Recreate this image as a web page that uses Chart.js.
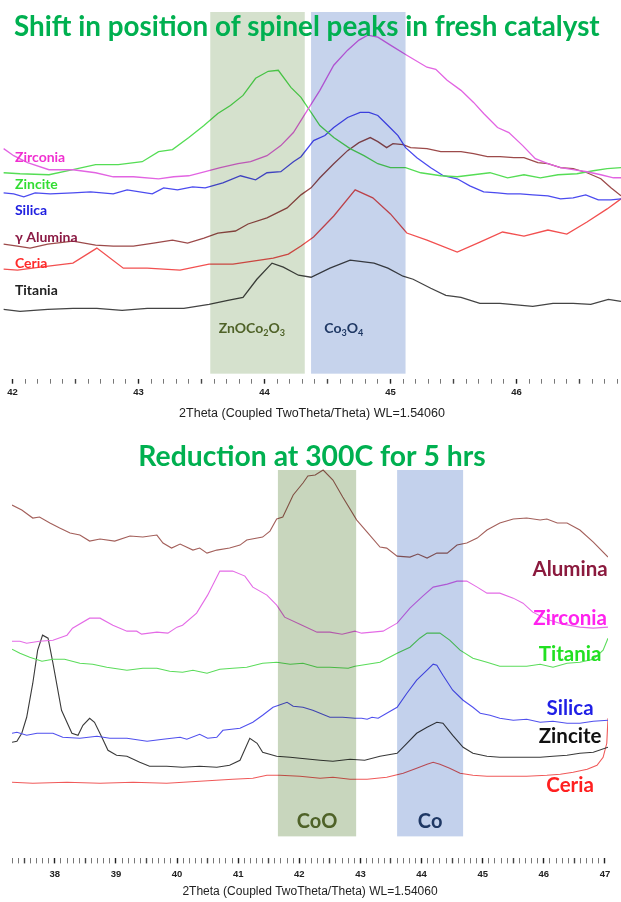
<!DOCTYPE html>
<html>
<head>
<meta charset="utf-8">
<script src="https://cdn.jsdelivr.net/npm/chart.js@4.4.0/dist/chart.umd.min.js"></script>
<style>
  html, body { margin: 0; padding: 0; background: #fff; }
  #wrap { position: relative; width: 621px; height: 902px; }
  canvas { position: absolute; left: 0; }
  #fresh { top: 0; }
  #reduced { top: 430px; }
</style>
</head>
<body>
<div id="wrap">
  <canvas id="fresh" width="621" height="430"></canvas>
  <canvas id="reduced" width="621" height="472"></canvas>
</div>
<script>
// ---- fresh catalyst (2theta in degrees, counts in arbitrary units) ----
const freshZirconiaTheta = [41.93,42.01,42.12,42.29,42.48,42.66,42.80,42.96,43.16,43.28,43.40,43.53,43.65,43.79,43.89,44.02,44.13,44.23,44.34,44.44,44.55,44.66,44.75,44.82,44.90,45.00,45.13,45.29,45.36,45.45,45.56,45.66,45.74,45.85,45.94,46.05,46.15,46.25,46.35,46.45,46.56,46.67,46.77,46.83];
const freshZirconiaCounts = [225,218,211,204,204,201,197,197,195,197,198,202,206,210,212,218,228,241,263,283,308,323,333,338,336,328,318,306,304,293,283,271,260,246,241,228,215,210,206,204,202,199,196,196];

const freshZinciteTheta = [41.93,42.06,42.29,42.48,42.66,42.84,43.03,43.16,43.27,43.40,43.52,43.63,43.73,43.83,43.93,44.03,44.11,44.21,44.29,44.37,44.44,44.55,44.68,44.79,44.90,45.00,45.12,45.24,45.40,45.53,45.66,45.79,45.93,46.06,46.19,46.33,46.48,46.61,46.72,46.83];
const freshZinciteCounts = [201,200,199,204,209,209,212,222,224,236,248,260,268,278,295,302,303,286,276,261,248,236,225,218,210,206,206,201,198,197,199,201,196,199,196,199,200,203,205,206];

const freshSilicaTheta = [41.93,42.01,42.09,42.18,42.30,42.48,42.62,42.80,42.91,43.11,43.20,43.31,43.43,43.53,43.67,43.81,43.93,44.02,44.13,44.23,44.29,44.39,44.48,44.55,44.66,44.76,44.83,44.90,44.98,45.06,45.12,45.21,45.32,45.42,45.53,45.63,45.74,45.85,45.93,46.03,46.13,46.25,46.35,46.45,46.55,46.65,46.75,46.83];
const freshSilicaCounts = [181,180,177,181,180,181,182,180,184,180,186,184,187,186,191,198,194,201,202,212,217,233,238,246,256,261,261,258,248,238,226,216,206,198,195,188,182,181,180,180,179,178,175,176,179,174,174,175];

const freshAluminaTheta = [41.93,42.04,42.14,42.28,42.48,42.66,42.80,42.96,43.12,43.27,43.39,43.52,43.63,43.77,43.87,44.02,44.18,44.29,44.37,44.44,44.55,44.66,44.75,44.84,44.90,44.97,45.02,45.10,45.16,45.29,45.40,45.56,45.66,45.77,45.87,45.98,46.06,46.17,46.25,46.35,46.45,46.56,46.67,46.75,46.83];
const freshAluminaCounts = [130,128,126,130,133,129,128,128,131,134,131,136,141,143,150,156,166,179,186,196,210,223,231,236,232,226,230,229,226,225,222,222,220,217,217,216,216,211,210,206,205,201,195,186,178];

const freshCeriaTheta = [41.93,42.04,42.22,42.48,42.67,42.88,43.07,43.33,43.56,43.75,43.91,44.07,44.19,44.29,44.39,44.55,44.72,44.86,45.00,45.13,45.29,45.53,45.71,45.89,46.06,46.25,46.40,46.56,46.72,46.83];
const freshCeriaCounts = [105,104,107,111,126,106,106,104,110,110,113,116,120,128,137,158,184,176,160,141,134,122,132,142,138,144,140,152,165,175];

const freshTitaniaTheta = [41.93,42.06,42.28,42.48,42.67,42.87,43.07,43.36,43.56,43.71,43.83,43.94,44.06,44.15,44.27,44.37,44.52,44.68,44.87,44.98,45.10,45.18,45.32,45.44,45.56,45.71,45.87,46.13,46.29,46.45,46.59,46.73,46.83];
const freshTitaniaCounts = [65,63,65,66,66,64,66,66,70,74,77,95,111,107,99,97,106,114,111,106,98,95,86,79,77,71,71,68,71,71,70,75,73];

const freshNames = ['Zirconia', 'Zincite', 'Silica', 'γ Alumina', 'Ceria', 'Titania'];
const freshBandFrom = [43.57, 44.37];
const freshBandTo = [44.32, 45.12];
const freshBandNames = ['ZnOCo_2O_3', 'Co_3O_4'];

// ---- reduced at 300C for 5 hrs ----
const redAluminaTheta = [37.30,37.46,37.64,37.75,37.92,38.08,38.25,38.41,38.57,38.74,38.98,39.23,39.44,39.67,39.77,39.91,40.05,40.26,40.37,40.49,40.65,40.86,41.03,41.14,41.40,41.52,41.63,41.73,41.90,42.06,42.14,42.26,42.39,42.55,42.71,42.94,43.11,43.32,43.43,43.60,43.81,43.94,44.09,44.25,44.42,44.58,44.74,44.91,45.07,45.28,45.50,45.72,45.94,46.05,46.22,46.38,46.59,46.81,47.05];
const redAluminaCounts = [353,348,340,341,335,330,325,323,317,319,317,322,321,323,315,310,314,308,310,305,308,310,313,318,321,327,339,341,363,375,382,383,388,378,361,338,326,311,310,302,301,304,300,305,305,313,315,320,328,335,339,340,338,339,335,335,328,316,301];

const redZirconiaTheta = [37.30,37.43,37.54,37.75,37.97,38.20,38.29,38.57,38.74,38.95,39.18,39.34,39.42,39.67,39.85,40.00,40.09,40.32,40.50,40.70,40.91,41.11,41.24,41.47,41.63,41.76,42.01,42.29,42.50,42.70,42.91,43.02,43.37,43.60,43.81,44.02,44.19,44.42,44.58,44.74,44.91,45.07,45.28,45.50,45.66,45.82,46.05,46.31,46.59,46.81,47.05];
const redZirconiaCounts = [217,217,215,217,218,223,230,240,240,233,227,227,224,226,225,231,233,245,263,287,287,282,271,263,253,241,234,226,226,224,227,225,227,235,250,262,271,274,277,277,271,265,265,260,255,246,239,234,231,230,231];

const redTitaniaTheta = [37.30,37.43,37.59,37.79,37.97,38.16,38.41,38.62,38.85,39.18,39.44,39.67,39.88,40.09,40.26,40.49,40.70,40.91,41.14,41.40,41.63,41.85,42.06,42.29,42.50,42.80,42.91,43.32,43.60,43.81,43.97,44.09,44.30,44.46,44.63,44.84,45.07,45.28,45.50,45.72,45.94,46.15,46.38,46.59,46.81,46.97,47.05];
const redTitaniaCounts = [209,205,201,197,199,199,195,194,191,188,190,190,187,186,188,185,189,190,191,195,196,194,195,191,191,190,192,196,205,211,220,225,225,218,208,200,196,192,192,192,194,191,195,196,199,208,220];

const redSilicaTheta = [37.30,37.38,37.54,37.71,37.97,38.13,38.41,38.69,38.90,39.18,39.51,39.77,40.05,40.16,40.37,40.50,40.65,40.75,41.03,41.24,41.40,41.57,41.80,41.90,42.06,42.22,42.50,42.71,42.91,43.02,43.11,43.19,43.29,43.43,43.60,43.76,43.92,44.09,44.19,44.25,44.35,44.51,44.68,44.84,44.96,45.12,45.28,45.50,45.72,45.94,46.15,46.38,46.59,46.81,47.05];
const redSilicaCounts = [125,126,123,125,125,121,120,122,120,120,117,119,121,119,124,120,121,128,130,136,143,151,156,152,151,148,141,141,140,140,139,141,140,145,151,165,178,188,194,193,183,168,158,151,145,143,140,138,139,136,137,135,135,137,138];

const redZinciteTheta = [37.30,37.38,37.46,37.54,37.64,37.72,37.80,37.89,37.97,38.11,38.28,38.38,38.46,38.57,38.65,38.77,38.87,39.01,39.18,39.39,39.55,39.83,40.09,40.37,40.65,40.86,41.03,41.19,41.31,41.40,41.63,41.85,42.01,42.34,42.55,42.83,43.07,43.32,43.60,43.76,43.92,44.09,44.25,44.35,44.51,44.68,44.84,45.07,45.28,45.61,45.94,46.15,46.38,46.59,46.81,47.05];
const redZinciteCounts = [116,117,125,141,175,208,223,220,195,148,125,123,133,140,136,121,108,103,102,96,92,92,91,92,91,93,98,120,115,106,102,101,100,98,97,99,98,102,105,115,125,131,136,135,123,111,105,102,101,101,101,102,103,105,106,111];

const redCeriaTheta = [37.30,37.64,38.20,38.74,39.28,39.83,40.37,40.91,41.24,41.47,41.68,42.01,42.34,42.55,42.83,43.11,43.43,43.70,43.92,44.09,44.19,44.30,44.46,44.63,44.84,45.07,45.40,45.72,46.05,46.27,46.48,46.71,46.87,46.97,47.03,47.05];
const redCeriaCounts = [76,75,76,75,76,75,77,79,80,83,83,82,80,81,79,79,81,85,90,94,96,94,90,85,83,82,82,82,83,84,86,89,93,101,115,140];

const redNames = ['Alumina', 'Zirconia', 'Titania', 'Silica', 'Zincite', 'Ceria'];
const redBandFrom = [41.65, 43.60];
const redBandTo = [42.93, 44.68];
const redBandNames = ['CoO', 'Co'];

const axisTitle = '2Theta (Coupled TwoTheta/Theta) WL=1.54060';
const CAL = 'Lato, "Open Sans", sans-serif';

Chart.defaults.font.family = '"Liberation Sans", Arial, sans-serif';

function zip(xs, ys) {
    return xs.map((x, i) => ({ x: x, y: ys[i] }));
}

function series(label, xs, ys, color, width) {
    return {
        label: label,
        data: zip(xs, ys),
        borderColor: color,
        borderWidth: width,
        pointRadius: 0,
        tension: 0,
        fill: false
    };
}

// draws "ZnOCo_2O_3" style text, digits after _ as subscripts
function drawRich(ctx, text, x, y, size, weight, align) {
    const parts = text.split(/_(\d)/);
    const runs = parts.map((p, i) => ({ t: p, sub: i % 2 === 1 }));
    let total = 0;
    runs.forEach(r => {
        ctx.font = `${weight} ${r.sub ? size * 0.65 : size}px ${CAL}`;
        r.w = ctx.measureText(r.t).width;
        total += r.w;
    });
    let cx = align === 'center' ? x - total / 2 : align === 'right' ? x - total : x;
    ctx.textAlign = 'left';
    ctx.textBaseline = 'alphabetic';
    runs.forEach(r => {
        ctx.font = `${weight} ${r.sub ? size * 0.65 : size}px ${CAL}`;
        ctx.fillText(r.t, cx, r.sub ? y + size * 0.2 : y);
        cx += r.w;
    });
}

const decor = {
    id: 'decor',
    afterDatasetsDraw(chart, args, opts) {
        const { ctx, scales: { x, y } } = chart;
        ctx.save();
        ctx.globalCompositeOperation = 'multiply';
        opts.bands.forEach(b => {
            const l = x.getPixelForValue(b.from);
            const r = x.getPixelForValue(b.to);
            const t = y.getPixelForValue(b.high);
            const btm = y.getPixelForValue(b.low);
            ctx.fillStyle = b.color;
            ctx.fillRect(l, t, r - l, btm - t);
        });
        ctx.restore();
    },
    afterDraw(chart, args, opts) {
        const { ctx, scales: { x, y } } = chart;
        ctx.save();
        opts.bands.forEach(b => {
            ctx.fillStyle = b.textColor;
            drawRich(ctx, b.label, x.getPixelForValue(b.labelX), y.getPixelForValue(b.labelY), b.size, 'bold', 'center');
        });
        opts.names.forEach(n => {
            ctx.fillStyle = n.color;
            drawRich(ctx, n.text, x.getPixelForValue(n.x), y.getPixelForValue(n.y), n.size, 'bold', n.align);
        });
        const t = opts.title;
        ctx.fillStyle = '#00b050';
        drawRich(ctx, t.text, t.x, t.y, t.size, 'bold', t.align);
        ctx.restore();
    }
};

function thetaAxis(min, max, titleSize, tickPad, titlePad) {
    const whole = v => Math.abs(v - Math.round(v)) < 1e-6;
    const half = v => Math.abs(v * 2 - Math.round(v * 2)) < 1e-6;
    return {
        type: 'linear',
        min: min,
        max: max,
        border: { display: false },
        grid: {
            drawOnChartArea: false,
            tickLength: 5,
            tickColor: c => whole(c.tick.value) ? '#222' : half(c.tick.value) ? '#444' : '#777',
            tickWidth: c => half(c.tick.value) ? 1.4 : 1
        },
        ticks: {
            stepSize: 0.1,
            autoSkip: false,
            maxRotation: 0,
            includeBounds: false,
            padding: tickPad,
            color: '#222',
            font: { size: 9.5, weight: 'bold' },
            callback: v => whole(v) ? String(Math.round(v)) : ''
        },
        title: {
            display: true,
            text: axisTitle,
            color: '#222',
            font: { size: titleSize },
            padding: titlePad
        }
    };
}

function bandList(from, to, names, low, high, colors, textColors, labelX, labelY, size) {
    return from.map((f, i) => ({
        from: f, to: to[i], low: low, high: high,
        color: colors[i], textColor: textColors[i],
        label: names[i], labelX: labelX[i], labelY: labelY, size: size
    }));
}

// ---------- fresh catalyst chart ----------
const freshColors = ['#e264e2', '#55dd55', '#4b4bef', '#9c4a4a', '#f25050', '#444444'];
const freshLabelColors = ['#f030d0', '#33dd33', '#2020e0', '#8b1a44', '#ff2a2a', '#222222'];
const freshLabelY = [212, 185, 159, 132, 106, 79];

new Chart(document.getElementById('fresh'), {
    type: 'line',
    data: {
        datasets: [
            series(freshNames[0], freshZirconiaTheta, freshZirconiaCounts, freshColors[0], 1.3),
            series(freshNames[1], freshZinciteTheta, freshZinciteCounts, freshColors[1], 1.3),
            series(freshNames[2], freshSilicaTheta, freshSilicaCounts, freshColors[2], 1.3),
            series(freshNames[3], freshAluminaTheta, freshAluminaCounts, freshColors[3], 1.3),
            series(freshNames[4], freshCeriaTheta, freshCeriaCounts, freshColors[4], 1.3),
            series(freshNames[5], freshTitaniaTheta, freshTitaniaCounts, freshColors[5], 1.3)
        ]
    },
    options: {
        responsive: false,
        animation: false,
        layout: { padding: { top: 12, left: 3, right: 0, bottom: 0 } },
        scales: {
            x: thetaAxis(41.925, 46.83, 12.5, 3.3, { top: 4.8, bottom: 8.5 }),
            y: { display: false, min: -4, max: 361 }
        },
        plugins: {
            legend: { display: false },
            tooltip: { enabled: false },
            decor: {
                title: { text: 'Shift in position of spinel peaks in fresh catalyst', x: 14, y: 36, size: 27.8, align: 'left' },
                bands: bandList(freshBandFrom, freshBandTo, freshBandNames, 1, 361,
                    ['#d5e1cd', '#c6d3ec'], ['#4f6228', '#1f3864'], [43.90, 44.63], 41, 14),
                names: freshNames.map((n, i) => ({
                    text: n, color: freshLabelColors[i], x: 42.02, y: freshLabelY[i], size: 14, align: 'left'
                }))
            }
        }
    },
    plugins: [decor]
});

// ---------- reduced catalyst chart ----------
const redColors = ['#a35f5a', '#e46be6', '#5bdc5b', '#5050ee', '#3a3a3a', '#f05a5a'];
const redLabelColors = ['#8b1a3e', '#ff22ee', '#22e022', '#1f1fe6', '#111111', '#ff2020'];
const redLabelY = [282, 233, 197, 143, 115, 66];

new Chart(document.getElementById('reduced'), {
    type: 'line',
    data: {
        datasets: [
            series(redNames[0], redAluminaTheta, redAluminaCounts, redColors[0], 1.1),
            series(redNames[1], redZirconiaTheta, redZirconiaCounts, redColors[1], 1.1),
            series(redNames[2], redTitaniaTheta, redTitaniaCounts, redColors[2], 1.1),
            series(redNames[3], redSilicaTheta, redSilicaCounts, redColors[3], 1.1),
            series(redNames[4], redZinciteTheta, redZinciteCounts, redColors[4], 1.1),
            series(redNames[5], redCeriaTheta, redCeriaCounts, redColors[5], 1.1)
        ]
    },
    options: {
        responsive: false,
        animation: false,
        layout: { padding: { top: 38, left: 12, right: 13, bottom: 0 } },
        scales: {
            x: thetaAxis(37.30, 47.05, 12, 5, { top: 0, bottom: 2.8 }),
            y: { display: false, min: 0, max: 390 }
        },
        plugins: {
            legend: { display: false },
            tooltip: { enabled: false },
            decor: {
                title: { text: 'Reduction at 300C for 5 hrs', x: 312, y: 36, size: 28.3, align: 'center' },
                bands: bandList(redBandFrom, redBandTo, redBandNames, 22, 388,
                    ['#c8d6bd', '#c3d1ec'], ['#4f6228', '#1f3864'], [42.29, 44.14], 30, 20),
                names: redNames.map((n, i) => ({
                    text: n, color: redLabelColors[i], x: 46.43, y: redLabelY[i], size: 20.5, align: 'center'
                }))
            }
        }
    },
    plugins: [decor]
});
</script>
</body>
</html>
